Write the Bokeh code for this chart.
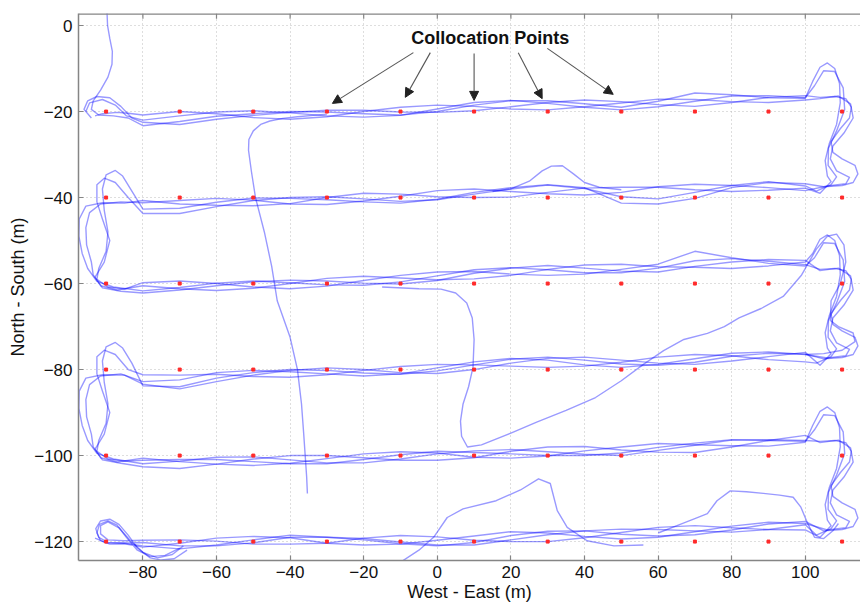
from bokeh.plotting import figure
from bokeh.models import Range1d, FixedTicker, Label, Arrow, NormalHead, Span
from bokeh.embed import file_html
from bokeh.resources import INLINE

# ---------------- data ----------------
x_ticks = [-80, -60, -40, -20, 0, 20, 40, 60, 80, 100]
y_ticks = [0, -20, -40, -60, -80, -100, -120]

# collocation points (survey grid)
colloc_x = [-90, -70, -50, -30, -10, 10, 30, 50, 70, 90, 110]
colloc_y = [-20, -40, -60, -80, -100, -120]

# along-track stations of each survey leg (m, west-east)
leg_x = [-80, -70, -60, -50, -40, -30, -20, -10, 0, 10, 20, 30, 40, 50, 60, 70, 80, 90, 100]

# mean northing of the boat along each leg (m)
leg_centre = [
    [-21.0, -20.8, -20.8, -20.9, -20.8, -20.6, -20.3, -20.0, -19.4, -18.8, -18.5, -18.4, -18.4, -18.5, -18.2, -17.9, -17.4, -17.1, -16.9],
    [-41.5, -41.7, -41.3, -41.0, -41.0, -40.5, -40.2, -40.0, -39.5, -39.0, -38.7, -38.3, -38.3, -38.8, -38.5, -38.2, -37.8, -37.3, -37.5],
    [-60.7, -60.6, -60.5, -60.4, -60.2, -59.8, -59.4, -59.0, -58.5, -57.8, -57.4, -57.0, -56.8, -56.5, -56.2, -55.5, -55.5, -55.5, -55.4],
    [-81.8, -82.2, -81.5, -81.3, -81.0, -80.6, -80.4, -80.2, -79.8, -79.2, -78.6, -78.3, -78.3, -78.3, -78.0, -77.7, -77.3, -77.2, -77.0],
    [-101.6, -101.8, -101.5, -101.2, -101.0, -100.8, -100.5, -100.3, -100.0, -100.0, -99.5, -99.1, -98.8, -98.8, -98.4, -98.1, -97.4, -96.9, -96.3],
    [-120.5, -120.6, -120.2, -120.0, -119.6, -120.0, -119.8, -119.8, -119.8, -119.6, -119.0, -118.7, -118.5, -118.3, -117.8, -117.3, -117.0, -116.6, -116.3],
]

# cross-track offset of each pass from the leg mean (m)
pass1_dev = [
    [-2.3, -1.5, -0.3, 0.4, 0.8, 0.5, -0.2, -0.8, -0.6, 0.3, 1.0, 0.9, 0.2, -0.5, 0.6, 2.2, 1.3, 0.3, 0.0],
    [0.8, 0.2, -0.5, -0.9, -0.4, 0.5, 1.2, 0.8, -0.3, -1.0, -1.2, -0.5, 0.5, 1.2, 0.9, 0.0, -0.8, -1.0, -0.3],
    [-1.0, -0.3, 0.6, 1.0, 0.4, -0.5, -1.0, -0.6, 0.3, 1.0, 1.1, 0.2, -0.7, -1.0, -0.2, 0.8, 1.3, 0.7, -0.2],
    [-2.0, -1.8, -0.5, 0.6, 1.0, 0.4, -0.4, -0.9, -0.5, 0.3, 1.0, 1.2, 0.5, -0.4, -1.0, -0.6, 0.4, 1.0, 0.6],
    [0.5, 0.9, 0.6, -0.2, -0.9, -1.1, -0.4, 0.5, 1.0, 0.7, -0.1, -0.9, -1.2, -0.6, 0.3, 1.0, 1.1, 0.4, -0.4],
    [0.3, -0.4, -0.8, -0.3, 0.6, 1.0, 0.5, -0.3, -1.0, -1.2, -0.6, 0.3, 1.0, 1.2, 0.6, -0.2, -0.8, -0.6, 0.2],
]
pass2_dev = [
    [-1.5, -2.2, -1.0, 0.0, 0.6, 0.9, 0.6, -0.1, -0.8, -1.0, -0.4, 0.5, 1.1, 0.8, -0.2, -0.9, -0.5, 0.4, 0.6],
    [-1.2, -0.8, 0.2, 0.9, 0.8, 0.0, -0.8, -1.3, -0.9, 0.2, 1.0, 1.3, 0.6, -2.5, -3.0, -2.0, 0.1, 0.8, 0.7],
    [0.9, 1.2, 0.5, -0.4, -1.0, -0.8, 0.1, 0.9, 1.2, 0.6, -0.4, -1.1, -1.0, -0.2, 0.7, 3.0, 1.5, 0.2, -0.5],
    [0.6, 0.9, 0.4, -0.3, -0.8, -0.6, 0.2, 0.9, 1.0, 0.3, -0.6, -1.2, -0.9, 0.0, 0.9, 1.2, 0.5, -0.5, -1.2],
    [-1.0, -1.2, -0.5, 0.4, 1.0, 0.8, 0.0, -0.8, -1.1, -0.5, 0.5, 1.1, 0.9, 0.1, -0.8, -1.2, -0.6, 0.4, 1.0],
    [-0.8, 0.2, 1.0, 1.2, 0.5, -0.4, -1.0, -0.8, 0.1, 0.9, 1.3, 0.7, -0.3, -1.1, -1.2, -0.4, 0.6, 1.1, 0.5],
]
pass3_dev = [
    [-1.0, -0.2, 0.7, 1.1, 0.5, -0.4, -1.0, -0.9, 0.0, 0.9, 1.1, 0.3, -0.6, -1.1, -0.7, 0.3, 1.0, 0.8, 0.1],
    [-2.2, -2.0, -0.8, 0.3, 1.0, 0.7, -0.1, -0.9, -1.0, -0.2, 0.7, 1.2, 0.4, -1.0, -1.8, -0.6, 0.6, 1.0, 0.2],
    [-1.5, -0.9, 0.0, 0.8, 1.0, 0.4, -0.5, -1.1, -0.8, 0.2, 1.0, 1.2, 0.4, -0.6, -1.1, -0.5, 0.5, 1.1, 0.8],
    [-1.0, -0.2, 0.8, 1.1, 0.5, -0.4, -1.1, -0.8, 0.2, 1.0, 1.2, 0.5, -0.6, -1.2, -0.8, 0.2, 1.1, 1.3, 0.5],
    [1.0, 0.4, -0.5, -1.1, -0.8, 0.1, 0.9, 1.2, 0.6, -0.4, -1.1, -1.0, -0.1, 0.8, 1.2, 0.6, -0.3, -0.9, -0.6],
    [0.8, 1.0, 0.3, -0.6, -1.0, -0.4, 0.6, 1.2, 0.9, -0.1, -1.0, -1.3, -0.6, 0.4, 1.1, 1.0, 0.2, -0.6, -1.0],
]
pass4_dev = [
    [0.2, 0.8, 0.3, -0.5, -1.0, -0.6, 0.3, 1.0, 0.9, 0.0, -0.9, -1.2, -0.5, 0.5, 1.1, 0.7, -0.3, -0.8, -0.4],
    [0.3, 1.0, 1.1, 0.4, -0.5, -1.1, -0.6, 0.3, 1.1, 1.0, 0.1, -0.8, -1.1, 0.0, 1.0, 1.3, 0.6, -0.4, -0.9],
    [0.2, -0.6, -1.1, -0.7, 0.2, 1.0, 1.1, 0.3, -0.6, -1.1, -0.7, 0.3, 1.1, 1.0, 0.1, -0.7, -1.0, -0.4, 0.4],
    [-1.6, -2.3, -1.3, 0.0, 0.8, 1.0, 0.4, -0.5, -1.1, -0.8, 0.1, 0.9, 1.2, 0.5, -0.5, -1.1, -0.7, 0.2, 1.0],
    [-0.3, 0.5, 1.1, 0.9, 0.0, -0.9, -1.2, -0.5, 0.4, 1.1, 0.9, 0.0, -0.9, -1.2, -0.4, 0.5, 1.0, 0.6, -0.2],
    [-0.5, -1.1, -0.6, 0.4, 1.1, 1.0, 0.2, -0.7, -1.2, -0.6, 0.4, 1.1, 1.0, 0.0, -0.9, -1.1, -0.3, 0.7, 1.0],
]
pass_dev = [pass1_dev, pass2_dev, pass3_dev, pass4_dev]

# east-end turns: easting, northing relative to the upper leg line
east_turns = [
    ([102, 104, 106, 108, 109.3, 109.5, 108.5, 106.5, 105.4, 106, 107, 104],
     [7, 10.3, 11.3, 10, 6.5, 2, -3, -7.5, -11.4, -15, -16.3, -19]),
    ([104, 108, 111, 112.5, 112, 109.5, 107, 107.5, 110, 113.5, 114.3, 113, 110, 105],
     [3.3, 3.5, 3, 1, -1.5, -4, -7, -9.5, -11, -12.5, -14.5, -16.5, -17.2, -17.5]),
    ([102.5, 105, 108, 110.3, 110.7, 108.5, 106.3, 106.2, 108.5, 107, 103],
     [6, 9.5, 9.3, 5.5, 0.5, -4.5, -8.5, -12.5, -15.2, -17, -18.5]),
    ([104, 109, 112.3, 113, 110.5, 107.5, 106.8, 108.5, 112, 111, 106],
     [3, 3.6, 1.8, -1.5, -5, -8, -11, -13.8, -15.3, -16.8, -17.3]),
]
# west-end turns: easting, northing relative to the upper leg line
west_turns = [
    ([-85, -91, -95.5, -97.3, -97.4, -96.5, -95, -92.5, -88],
     [-1.3, -1.2, -2, -5, -9, -13, -16.5, -19.5, -20.8]),
    ([-83, -85.5, -87.5, -90, -91, -90.5, -89.5, -90, -92, -92.5, -89.5, -85],
     [1.5, 5, 6.3, 5.3, 2, -3, -8, -12.5, -16.5, -19, -20.8, -21.3]),
    ([-84, -87.5, -90.5, -92.5, -92.5, -91, -89, -90.5, -93, -91, -86],
     [0, 3.5, 4.5, 3, -1, -5, -10, -15, -18.5, -21, -21.8]),
    ([-86, -91.5, -94.5, -95.5, -95.3, -94, -93.5, -91.5, -87],
     [-1, -1.5, -3.5, -7, -11, -15, -18, -20.5, -21.5]),
]

# start of each pass (first pass enters from the north)
pass_start = [
    ([-89.8, -89.6, -89.0, -88.3, -88.4, -89.5, -91.5, -93.5, -94.0, -92.0, -88.0, -84.0],
     [4.0, 0.0, -3.0, -6.0, -9.0, -12.0, -15.0, -17.5, -19.5, -20.8, -21.0, -21.5]),
    ([-94, -96, -95, -92.5, -89, -86, -83],
     [-21.5, -19.5, -17.5, -16.5, -16.8, -18.8, -21.5]),
    ([-95.5, -94.5, -91, -87.5, -84.5],
     [-20, -18, -17.2, -18.5, -21]),
    ([-93, -91, -87, -84],
     [-21, -20.5, -20.2, -20.4]),
]
# end of each pass (loop at the south-west corner)
pass_end = [
    ([-85, -89.5, -92, -92.8, -91.5, -89, -86.5, -84, -81.5, -78, -75, -71.5, -68],
     [-120.3, -120.2, -119, -117, -115.2, -114.8, -116, -118.5, -121.5, -123.8, -124.3, -124, -122]),
    ([-85, -89, -91.5, -92.5, -91.8, -89.5, -87, -84.5, -81.5, -78, -74, -70],
     [-120.5, -120.6, -119.8, -118, -116, -115.2, -116.2, -119, -122, -123.5, -123.2, -121.5]),
    ([-85, -89.5, -91.5, -91.5, -89.5, -86.5, -83.5, -80, -76, -72, -69],
     [-119.8, -119.6, -118.2, -116.3, -115.4, -116.8, -119.7, -122.5, -123.8, -123, -121]),
    ([-85, -90, -93],
     [-120.4, -120.3, -119.2]),
]

# transit runs between legs
transit_north_x = [-35.3, -35.5, -35.9, -36.3, -36.9, -38.0, -40.0, -43.5, -45.0, -47.0, -49.4, -50.5, -51.3, -51.2, -50.0, -48.0, -45.5, -42.0, -38.0, -30.0]
transit_north_y = [-108.8, -105.0, -100.0, -95.0, -88.0, -80.0, -72.5, -64.0, -56.0, -48.0, -40.0, -34.0, -29.0, -26.5, -24.5, -23.0, -22.2, -21.6, -21.2, -20.6]
transit_diag_x = [-15, -5, 1, 5, 8, 9.5, 10, 9.7, 8.5, 7, 6.3, 6.6, 8.2, 12, 20, 27, 35, 43, 50, 56, 61.5, 67, 73.4, 78, 82, 88, 94, 99, 103, 106, 108.5, 110.5, 111, 109.5, 107, 106.8, 109, 113, 113.5, 110, 105, 100]
transit_diag_y = [-60.8, -61.2, -61.3, -62.2, -64.5, -68, -73, -79.5, -84, -88, -92, -95.5, -98, -97.5, -94.8, -92.2, -89.5, -86.5, -82.6, -78.8, -75.6, -73, -71.6, -70, -68, -65.8, -63, -58, -52, -49, -48.5, -51, -55, -60, -64, -68.6, -70, -71.5, -73.5, -75.5, -76.3, -76.5]
detour_south_x = [-10, -5, -1, 2.7, 7, 16, 22.6, 27.5, 30.7, 32.6, 35.3, 40.7, 48, 56]
detour_south_y = [-124.8, -122, -119, -114.4, -112.4, -110.5, -108, -105.4, -106.5, -112.8, -116.7, -119.8, -121, -120.8]
detour_se_x = [60, 66, 70.5, 73.4, 76, 79.6, 84, 88.6, 93, 96.7, 98.8, 100.5, 102.5, 105, 107.5, 109]
detour_se_y = [-118, -116, -114.5, -113.5, -110.5, -108.2, -108.4, -108.8, -109.2, -109.7, -112, -115.5, -119, -119.3, -117.5, -115.8]
detour_leg2_x = [15, 20, 25, 28.5, 31, 34, 37, 40, 44, 50]
detour_leg2_y = [-38.6, -38, -36.2, -33.8, -32.7, -32.6, -34.5, -36.5, -37.6, -38.2]

# annotation
callout_text = "Collocation Points"
callout_pos = (14.4, -2.8)
arrow_start_x = [-6.5, -1.9, 10.0, 22.0, 29.9]
arrow_start_y = [-6.3, -6.3, -6.5, -6.3, -5.3]
arrow_tip_x = [-28.5, -8.7, 10.0, 28.5, 47.8]
arrow_tip_y = [-18.1, -16.7, -17.4, -17.0, -16.0]

leg_lines = [-20, -40, -60, -80, -100, -120]

X_LIM = (-97.5, 115.0)
Y_LIM = (-124.4, 2.8)


# ---------------- build the survey passes ----------------
def build_pass(k):
    xs = list(pass_start[k][0])
    ys = list(pass_start[k][1])
    for r in range(6):
        yrow = [c + d for c, d in zip(leg_centre[r], pass_dev[k][r])]
        if r % 2 == 0:
            xs += leg_x
            ys += yrow
            tx, ty = east_turns[(k + r // 2) % 4]
            xs += tx
            ys += [leg_lines[r] + v for v in ty]
        else:
            xs += leg_x[::-1]
            ys += yrow[::-1]
            if r < 5:
                tx, ty = west_turns[(k + r // 2) % 4]
                xs += tx
                ys += [leg_lines[r] + v for v in ty]
    xs += pass_end[k][0]
    ys += pass_end[k][1]
    return xs, ys


track_xs, track_ys = [], []
for k in range(4):
    a, b = build_pass(k)
    track_xs.append(a)
    track_ys.append(b)
for tx, ty in [(transit_north_x, transit_north_y), (transit_diag_x, transit_diag_y),
               (detour_south_x, detour_south_y), (detour_se_x, detour_se_y),
               (detour_leg2_x, detour_leg2_y)]:
    track_xs.append(tx)
    track_ys.append(ty)

# ---------------- figure ----------------
FONT = "Liberation Sans"
AXIS_GREY = "#858585"

p = figure(width=860, height=605, x_range=Range1d(*X_LIM), y_range=Range1d(*Y_LIM),
           output_backend="svg", toolbar_location=None,
           min_border_left=78, min_border_right=0, min_border_top=13, min_border_bottom=45)
p.outline_line_color = None
p.background_fill_color = "white"
p.border_fill_color = "white"

for ax, ticks in ((p.xaxis[0], x_ticks), (p.yaxis[0], y_ticks)):
    ax.ticker = FixedTicker(ticks=ticks)
    ax.major_tick_in = 5
    ax.major_tick_out = 0
    ax.minor_tick_in = 0
    ax.minor_tick_out = 0
    ax.axis_line_color = AXIS_GREY
    ax.axis_line_width = 1.5
    ax.major_tick_line_color = AXIS_GREY
    ax.major_tick_line_width = 1.2
    ax.major_label_text_font = FONT
    ax.major_label_text_font_size = "17px"
    ax.major_label_text_color = "#111111"
    ax.axis_label_text_font = FONT
    ax.axis_label_text_font_size = "18px"
    ax.axis_label_text_font_style = "normal"
    ax.axis_label_text_color = "#111111"
p.xaxis[0].axis_label = "West - East (m)"
p.yaxis[0].axis_label = "North - South (m)"
p.xaxis[0].major_label_standoff = 5
p.xaxis[0].axis_label_standoff = 1
p.yaxis[0].major_label_standoff = 6
p.yaxis[0].axis_label_standoff = 3

# top border of the box with inward ticks
p.add_layout(Span(location=Y_LIM[1], dimension="width", line_color=AXIS_GREY, line_width=2.5))
p.segment(x0=x_ticks, y0=[Y_LIM[1]] * len(x_ticks), x1=x_ticks,
          y1=[Y_LIM[1] - 1.2] * len(x_ticks), line_color=AXIS_GREY, line_width=1.2)

for g, ticks in ((p.xgrid[0], x_ticks), (p.ygrid[0], y_ticks)):
    g.ticker = FixedTicker(ticks=ticks)
    g.grid_line_color = "#bdbdbd"
    g.grid_line_dash = "1 3"
    g.grid_line_width = 1

# boat tracks
p.multi_line(xs=track_xs, ys=track_ys, line_color="#0000ff", line_alpha=0.4,
             line_width=1.4, line_join="round")

# collocation points
cx = [x for y in colloc_y for x in colloc_x]
cy = [y for y in colloc_y for x in colloc_x]
p.scatter(cx, cy, marker="square", size=3, fill_color="#ff2a2a", line_color="#ff2a2a")

# call-out
p.add_layout(Label(x=callout_pos[0], y=callout_pos[1], text=callout_text, text_font=FONT,
                   text_font_size="18px", text_font_style="bold", text_color="#111111",
                   text_align="center", text_baseline="middle"))
for xs0, ys0, xs1, ys1 in zip(arrow_start_x, arrow_start_y, arrow_tip_x, arrow_tip_y):
    p.add_layout(Arrow(end=NormalHead(size=9, fill_color="#222222", line_color="#222222"),
                       x_start=xs0, y_start=ys0, x_end=xs1, y_end=ys1,
                       line_color="#555555", line_width=1.1))

open("out.html", "w").write(file_html(p, INLINE))
